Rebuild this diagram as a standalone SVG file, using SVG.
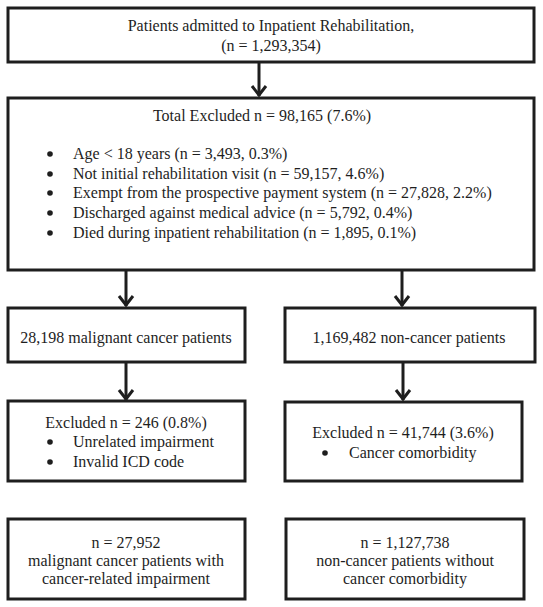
<svg xmlns="http://www.w3.org/2000/svg" width="543" height="607" viewBox="0 0 543 607">
<style>
.box{fill:#fff;stroke:#1e1e1e;stroke-width:3}
.t{font-family:"Liberation Serif","Times New Roman",serif;font-size:16px;fill:#1e1e1e}
.c{text-anchor:middle}
.ln{stroke:#1e1e1e;stroke-width:3;fill:none}
.ah{stroke:#1e1e1e;stroke-width:3;fill:none;stroke-linejoin:miter}
.b{fill:#1e1e1e}
</style>
<rect width="543" height="607" fill="#fff"/>
<g id="connectors">
<line class="ln" x1="259" y1="62" x2="259" y2="96"/>
<polyline class="ah" points="252,86 259,95 266,86"/>
<line class="ln" x1="126" y1="270" x2="126" y2="306"/>
<polyline class="ah" points="119,296 126,305 133,296"/>
<line class="ln" x1="402" y1="270" x2="402" y2="306"/>
<polyline class="ah" points="395,296 402,305 409,296"/>
<line class="ln" x1="126" y1="362" x2="126" y2="400"/>
<polyline class="ah" points="119,390 126,399 133,390"/>
<line class="ln" x1="403" y1="362" x2="403" y2="400"/>
<polyline class="ah" points="396,390 403,399 410,390"/>
</g>
<g id="n1">
<rect class="box" x="8" y="8" width="526" height="54"/>
<text class="t c" x="271" y="31">Patients admitted to Inpatient Rehabilitation,</text>
<text class="t c" x="271" y="51">(n = 1,293,354)</text>
</g>
<g id="n2">
<rect class="box" x="8" y="98" width="526" height="172"/>
<text class="t c" x="262" y="121">Total Excluded n = 98,165 (7.6%)</text>
<circle class="b" cx="50" cy="154" r="2.8"/>
<circle class="b" cx="50" cy="174" r="2.8"/>
<circle class="b" cx="50" cy="193" r="2.8"/>
<circle class="b" cx="50" cy="213" r="2.8"/>
<circle class="b" cx="50" cy="233" r="2.8"/>
<g class="t">
<text x="73" y="159">Age &lt; 18 years (n = 3,493, 0.3%)</text>
<text x="73" y="179">Not initial rehabilitation visit (n = 59,157, 4.6%)</text>
<text x="73" y="198">Exempt from the prospective payment system (n = 27,828, 2.2%)</text>
<text x="73" y="218">Discharged against medical advice (n = 5,792, 0.4%)</text>
<text x="73" y="238">Died during inpatient rehabilitation (n = 1,895, 0.1%)</text>
</g>
</g>
<g id="n3">
<rect class="box" x="8" y="308" width="237" height="54"/>
<text class="t c" x="126" y="343">28,198 malignant cancer patients</text>
</g>
<g id="n4">
<rect class="box" x="285" y="308" width="250" height="54"/>
<text class="t c" x="409" y="343">1,169,482 non-cancer patients</text>
</g>
<g id="n5">
<rect class="box" x="8" y="401" width="237" height="80"/>
<text class="t c" x="126" y="428">Excluded n = 246 (0.8%)</text>
<circle class="b" cx="50" cy="442" r="2.8"/>
<circle class="b" cx="50" cy="462" r="2.8"/>
<g class="t">
<text x="73" y="447">Unrelated impairment</text>
<text x="73" y="467">Invalid ICD code</text>
</g>
</g>
<g id="n6">
<rect class="box" x="285" y="402" width="237" height="79"/>
<text class="t c" x="403" y="438">Excluded n = 41,744 (3.6%)</text>
<circle class="b" cx="325" cy="453" r="2.8"/>
<g class="t">
<text x="349" y="458">Cancer comorbidity</text>
</g>
</g>
<g id="n7">
<rect class="box" x="8" y="519" width="237" height="80"/>
<text class="t c" x="126" y="548">n = 27,952</text>
<text class="t c" x="126" y="566">malignant cancer patients with</text>
<text class="t c" x="126" y="584">cancer-related impairment</text>
</g>
<g id="n8">
<rect class="box" x="286" y="519" width="238" height="80"/>
<text class="t c" x="405" y="548">n = 1,127,738</text>
<text class="t c" x="405" y="566">non-cancer patients without</text>
<text class="t c" x="405" y="584">cancer comorbidity</text>
</g>
</svg>
